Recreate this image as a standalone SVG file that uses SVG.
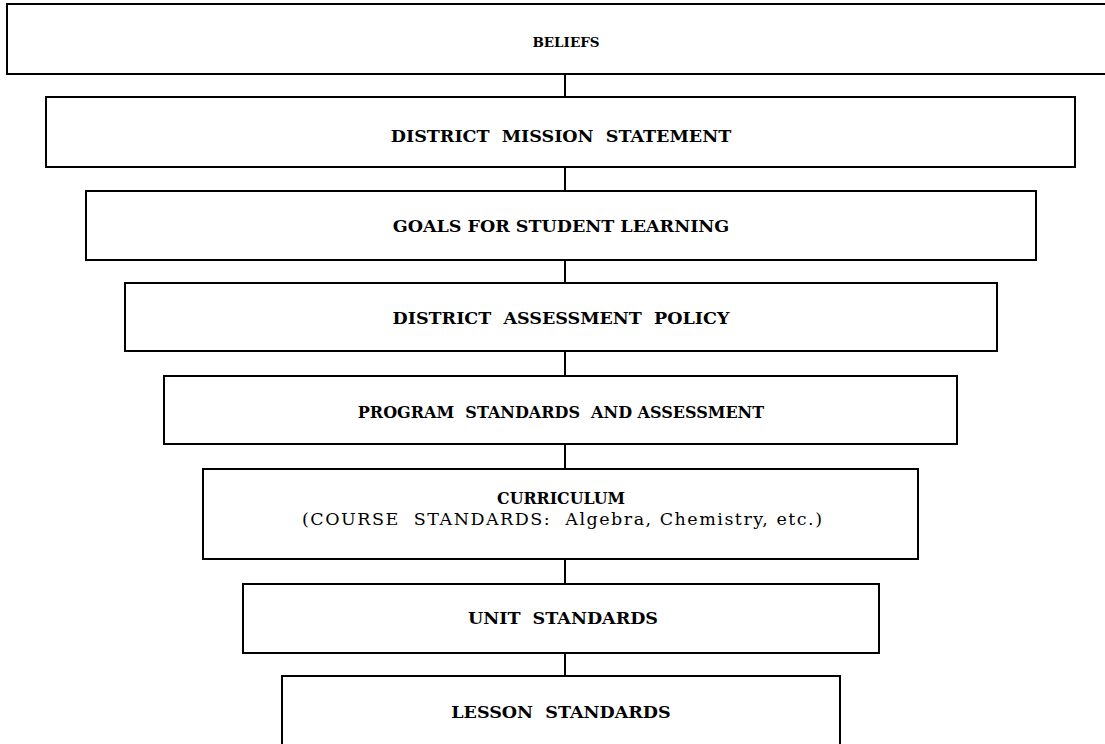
<svg xmlns="http://www.w3.org/2000/svg" width="1105" height="744" viewBox="0 0 1105 744">
  <style>
    .box { fill: #ffffff; stroke: #000000; stroke-width: 2; }
    .link { stroke: #000000; stroke-width: 2; fill: none; }
    .lbl { font-family: "DejaVu Serif", "Liberation Serif", serif; font-weight: bold; font-size: 17.5px; fill: #000000; text-anchor: middle; white-space: pre; }
    .sub { font-family: "DejaVu Serif", "Liberation Serif", serif; font-weight: normal; font-size: 17.5px; fill: #000000; text-anchor: middle; white-space: pre; }
  </style>
  <rect width="1105" height="744" fill="#ffffff"/>

  <!-- vertical links between stacked levels -->
  <g id="connectors">
    <line class="link" x1="565" y1="74" x2="565" y2="97"/>
    <line class="link" x1="565" y1="167" x2="565" y2="191"/>
    <line class="link" x1="565" y1="260" x2="565" y2="283"/>
    <line class="link" x1="565" y1="351" x2="565" y2="376"/>
    <line class="link" x1="565" y1="444" x2="565" y2="469"/>
    <line class="link" x1="565" y1="559" x2="565" y2="584"/>
    <line class="link" x1="565" y1="653" x2="565" y2="676"/>
  </g>

  <g id="beliefs">
    <rect class="box" x="7" y="4" width="1110" height="70"/>
    <text class="lbl" x="566" y="47" style="font-size:13.5px">BELIEFS</text>
  </g>
  <g id="mission">
    <rect class="box" x="46" y="97" width="1029" height="70"/>
    <text class="lbl" x="561" y="142" xml:space="preserve">DISTRICT  MISSION  STATEMENT</text>
  </g>
  <g id="goals">
    <rect class="box" x="86" y="191" width="950" height="69"/>
    <text class="lbl" x="561" y="232">GOALS FOR STUDENT LEARNING</text>
  </g>
  <g id="assessment-policy">
    <rect class="box" x="125" y="283" width="872" height="68"/>
    <text class="lbl" x="561" y="324" xml:space="preserve">DISTRICT  ASSESSMENT  POLICY</text>
  </g>
  <g id="program-standards">
    <rect class="box" x="164" y="376" width="793" height="68"/>
    <text class="lbl" x="561" y="418" style="font-size:16px" xml:space="preserve">PROGRAM  STANDARDS  AND ASSESSMENT</text>
  </g>
  <g id="curriculum">
    <rect class="box" x="203" y="469" width="715" height="90"/>
    <text class="lbl" x="561" y="504" style="font-size:15.8px">CURRICULUM</text>
    <text class="sub" x="562" y="525" textLength="520" lengthAdjust="spacing" xml:space="preserve">(COURSE  STANDARDS:  Algebra, Chemistry, etc.)</text>
  </g>
  <g id="unit-standards">
    <rect class="box" x="243" y="584" width="636" height="69"/>
    <text class="lbl" x="563" y="624" xml:space="preserve">UNIT  STANDARDS</text>
  </g>
  <g id="lesson-standards">
    <rect class="box" x="282" y="676" width="558" height="80"/>
    <text class="lbl" x="561" y="718" xml:space="preserve">LESSON  STANDARDS</text>
  </g>
</svg>
